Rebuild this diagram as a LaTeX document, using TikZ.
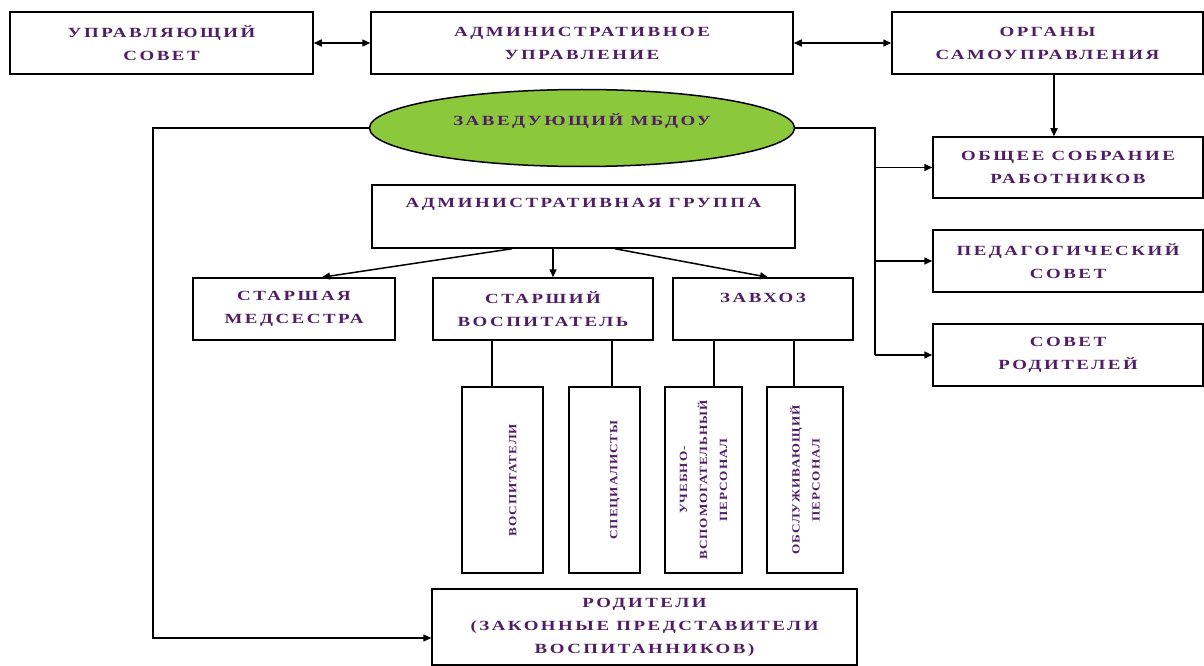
\documentclass[tikz,border=0pt]{standalone}
\usepackage{fontspec}
\setmainfont{Liberation Serif}
\newfontfamily\orgfont[FakeStretch=1.35,LetterSpace=18]{Liberation Serif}
\newfontfamily\vertfont[FakeStretch=1.2,LetterSpace=8]{Liberation Serif}
\usetikzlibrary{arrows.meta,shapes.geometric}
\definecolor{txtviolet}{RGB}{80,30,100}
\definecolor{zavgreen}{RGB}{140,200,60}
\tikzset{
  box/.style={draw, line width=1.5pt, align=center, text=txtviolet,
    font=\orgfont\bfseries\fontsize{14}{23}\selectfont, inner sep=2pt},
  vbox/.style={box, rotate=90, minimum width=186, minimum height=76,
    font=\vertfont\bfseries\fontsize{11}{20}\selectfont},
  link/.style={line width=1.5pt},
}
\begin{document}
\begin{tikzpicture}[x=1pt, y=-1pt, >={Triangle[length=8pt,width=7pt]}]
\useasboundingbox (0,0) rectangle (1204,666);
% top row
\node[box, minimum width=303, minimum height=62] (usovet) at (161.5,43) {УПРАВЛЯЮЩИЙ\\СОВЕТ};
\node[box, minimum width=422, minimum height=62] (aupr) at (582,43) {АДМИНИСТРАТИВНОЕ\\УПРАВЛЕНИЕ};
\node[box, minimum width=311, minimum height=62] (organy) at (1047.5,43) {ОРГАНЫ\\САМОУПРАВЛЕНИЯ};
\draw[link,<->] (usovet) -- (aupr);
\draw[link,<->] (aupr) -- (organy);
% head
\node[box, ellipse, fill=zavgreen, inner sep=0pt, minimum width=425, minimum height=77,
  text height=10pt, text depth=14pt] (zav) at (582,128) {ЗАВЕДУЮЩИЙ МБДОУ};
% right column
\node[box, minimum width=270, minimum height=61] (obsh) at (1068,167.5) {ОБЩЕЕ СОБРАНИЕ\\РАБОТНИКОВ};
\node[box, minimum width=270, minimum height=62] (ped) at (1068,261) {ПЕДАГОГИЧЕСКИЙ\\СОВЕТ};
\node[box, minimum width=270, minimum height=62] (sovr) at (1068,355) {СОВЕТ\\РОДИТЕЛЕЙ};
\draw[link,->] ([xshift=6.5pt]organy.south) -- ([xshift=6.5pt]organy.south |- obsh.north);
\coordinate (rbus) at (875,128);
\draw[link] (zav.east) -- (rbus) -- (rbus |- sovr.west);
\foreach \n in {obsh,ped,sovr} \draw[link,->] (rbus |- \n.west) -- (\n.west);
% administrative group
\node[box, minimum width=423, minimum height=63, text height=10pt, text depth=28pt] (agr) at (583.5,216.5) {АДМИНИСТРАТИВНАЯ ГРУППА};
\node[box, minimum width=202, minimum height=62] (stmed) at (294,309) {СТАРШАЯ\\МЕДСЕСТРА};
\node[box, minimum width=220, minimum height=62] (stvos) at (543,309) {СТАРШИЙ\\ВОСПИТАТЕЛЬ};
\node[box, minimum width=180, minimum height=62, text height=10pt, text depth=23pt] (zavhoz) at (763,309) {ЗАВХОЗ};
\draw[link,->] ([xshift=-71.5pt]agr.south) -- ([xshift=28pt]stmed.north);
\draw[link,->] ([xshift=-30.5pt]agr.south) -- ([xshift=-30.5pt]agr.south |- stvos.north);
\draw[link,->] ([xshift=31.5pt]agr.south) -- ([xshift=5pt]zavhoz.north);
% staff
\node[vbox, minimum height=81, text height=28pt] (vosp) at (502.5,480) {ВОСПИТАТЕЛИ};
\node[vbox, minimum height=71, text height=28pt] (spec) at (604.5,480) {СПЕЦИАЛИСТЫ};
\node[vbox, minimum height=77] (uchvsp) at (703.5,480) {УЧЕБНО-\\ВСПОМОГАТЕЛЬНЫЙ\\ПЕРСОНАЛ};
\node[vbox] (obsl) at (805,480) {ОБСЛУЖИВАЮЩИЙ\\ПЕРСОНАЛ};
\draw[link] ([xshift=-51pt]stvos.south) -- ([xshift=-51pt]stvos.south |- vosp.east);
\draw[link] ([xshift=69pt]stvos.south) -- ([xshift=69pt]stvos.south |- spec.east);
\draw[link] ([xshift=-49pt]zavhoz.south) -- ([xshift=-49pt]zavhoz.south |- uchvsp.east);
\draw[link] ([xshift=31pt]zavhoz.south) -- ([xshift=31pt]zavhoz.south |- obsl.east);
% parents
\node[box, minimum width=425, minimum height=76] (rod) at (644.5,627) {РОДИТЕЛИ\\(ЗАКОННЫЕ ПРЕДСТАВИТЕЛИ\\ВОСПИТАННИКОВ)};
\coordinate (lbus) at (153,128);
\draw[link,->] (zav.west) -- (lbus) |- ([yshift=-11pt]rod.west);
\end{tikzpicture}
\end{document}
